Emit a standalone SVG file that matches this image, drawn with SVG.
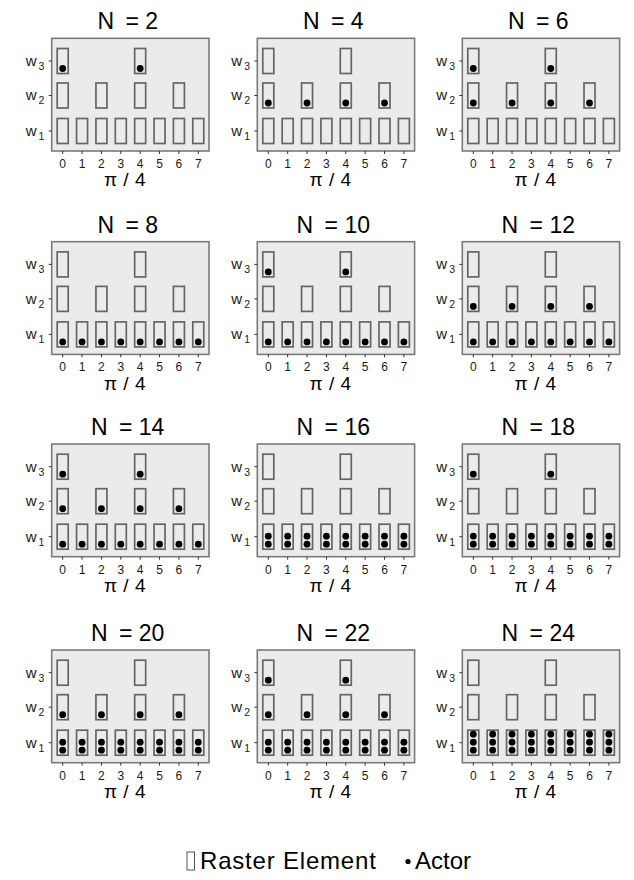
<svg xmlns="http://www.w3.org/2000/svg" width="634" height="880" viewBox="0 0 634 880">
<style>
.bg{fill:#ebebeb;stroke:#7a7a7a;stroke-width:1.6}
.re{fill:none;stroke:#666;stroke-width:1.7}
.tick{stroke:#333;stroke-width:1}
.dot{fill:#000}
text{font-family:"Liberation Sans",Arial,sans-serif;fill:#000}
.ttl{font-size:23px;text-anchor:middle}
.tk{font-size:12px;text-anchor:middle;fill:#1a1a1a}
.wl{font-size:15px;fill:#1a1a1a}
.sub{font-size:10.5px}
.ax{font-size:19px;text-anchor:middle;word-spacing:1px}
.lg{font-size:24px}
</style>
<defs>
<g id="base">
<rect class="bg" x="0" y="0" width="157.3" height="112.7"/>
<g class="re">
<rect x="5.5" y="10.2" width="11" height="25"/>
<rect x="82.98" y="10.2" width="11" height="25"/>
<rect x="5.5" y="44.7" width="11" height="25"/>
<rect x="44.24" y="44.7" width="11" height="25"/>
<rect x="82.98" y="44.7" width="11" height="25"/>
<rect x="121.72" y="44.7" width="11" height="25"/>
<rect x="5.5" y="80.2" width="11" height="25"/>
<rect x="24.87" y="80.2" width="11" height="25"/>
<rect x="44.24" y="80.2" width="11" height="25"/>
<rect x="63.61" y="80.2" width="11" height="25"/>
<rect x="82.98" y="80.2" width="11" height="25"/>
<rect x="102.35" y="80.2" width="11" height="25"/>
<rect x="121.72" y="80.2" width="11" height="25"/>
<rect x="141.09" y="80.2" width="11" height="25"/>
</g>
<path class="tick" d="M-3 22.7H0M-3 57.2H0M-3 92.7H0M11 112.7v3M30.37 112.7v3M49.74 112.7v3M69.11 112.7v3M88.48 112.7v3M107.85 112.7v3M127.22 112.7v3M146.59 112.7v3"/>
</g>
<g id="d3" class="dot"><circle cx="11" cy="30.2" r="3.4"/><circle cx="88.48" cy="30.2" r="3.4"/></g>
<g id="d2" class="dot"><circle cx="11" cy="64.7" r="3.4"/><circle cx="49.74" cy="64.7" r="3.4"/><circle cx="88.48" cy="64.7" r="3.4"/><circle cx="127.22" cy="64.7" r="3.4"/></g>
<g id="d1a" class="dot"><circle cx="11" cy="100.2" r="3.4"/><circle cx="30.37" cy="100.2" r="3.4"/><circle cx="49.74" cy="100.2" r="3.4"/><circle cx="69.11" cy="100.2" r="3.4"/><circle cx="88.48" cy="100.2" r="3.4"/><circle cx="107.85" cy="100.2" r="3.4"/><circle cx="127.22" cy="100.2" r="3.4"/><circle cx="146.59" cy="100.2" r="3.4"/></g>
<use id="d1b" href="#d1a" transform="translate(0,-8)"/>
<use id="d1c" href="#d1a" transform="translate(0,-16)"/>
</defs>

<g id="panel-n2" transform="translate(51.7,38.3)">
<use href="#base"/><use href="#d3"/>
<text class="ttl" x="76" y="-9">N <tspan dx="5">= 2</tspan></text>
<text class="wl" x="-26" y="27.7">w<tspan class="sub" dx="2" dy="4">3</tspan></text>
<text class="wl" x="-26" y="62.2">w<tspan class="sub" dx="2" dy="4">2</tspan></text>
<text class="wl" x="-26" y="97.7">w<tspan class="sub" dx="2" dy="4">1</tspan></text>
<text class="tk" x="11 30.37 49.74 69.11 88.48 107.85 127.22 146.59" y="129.5">01234567</text>
<text class="ax" x="73" y="148">π / 4</text>
</g>
<g id="panel-n4" transform="translate(257.3,38.3)">
<use href="#base"/><use href="#d2"/>
<text class="ttl" x="76" y="-9">N <tspan dx="5">= 4</tspan></text>
<text class="wl" x="-26" y="27.7">w<tspan class="sub" dx="2" dy="4">3</tspan></text>
<text class="wl" x="-26" y="62.2">w<tspan class="sub" dx="2" dy="4">2</tspan></text>
<text class="wl" x="-26" y="97.7">w<tspan class="sub" dx="2" dy="4">1</tspan></text>
<text class="tk" x="11 30.37 49.74 69.11 88.48 107.85 127.22 146.59" y="129.5">01234567</text>
<text class="ax" x="73" y="148">π / 4</text>
</g>
<g id="panel-n6" transform="translate(462.3,38.3)">
<use href="#base"/><use href="#d3"/><use href="#d2"/>
<text class="ttl" x="76" y="-9">N <tspan dx="5">= 6</tspan></text>
<text class="wl" x="-26" y="27.7">w<tspan class="sub" dx="2" dy="4">3</tspan></text>
<text class="wl" x="-26" y="62.2">w<tspan class="sub" dx="2" dy="4">2</tspan></text>
<text class="wl" x="-26" y="97.7">w<tspan class="sub" dx="2" dy="4">1</tspan></text>
<text class="tk" x="11 30.37 49.74 69.11 88.48 107.85 127.22 146.59" y="129.5">01234567</text>
<text class="ax" x="73" y="148">π / 4</text>
</g>

<g id="panel-n8" transform="translate(51.7,241.7)">
<use href="#base"/><use href="#d1a"/>
<text class="ttl" x="76" y="-9">N <tspan dx="5">= 8</tspan></text>
<text class="wl" x="-26" y="27.7">w<tspan class="sub" dx="2" dy="4">3</tspan></text>
<text class="wl" x="-26" y="62.2">w<tspan class="sub" dx="2" dy="4">2</tspan></text>
<text class="wl" x="-26" y="97.7">w<tspan class="sub" dx="2" dy="4">1</tspan></text>
<text class="tk" x="11 30.37 49.74 69.11 88.48 107.85 127.22 146.59" y="129.5">01234567</text>
<text class="ax" x="73" y="148">π / 4</text>
</g>
<g id="panel-n10" transform="translate(257.3,241.7)">
<use href="#base"/><use href="#d3"/><use href="#d1a"/>
<text class="ttl" x="76" y="-9">N <tspan dx="5">= 10</tspan></text>
<text class="wl" x="-26" y="27.7">w<tspan class="sub" dx="2" dy="4">3</tspan></text>
<text class="wl" x="-26" y="62.2">w<tspan class="sub" dx="2" dy="4">2</tspan></text>
<text class="wl" x="-26" y="97.7">w<tspan class="sub" dx="2" dy="4">1</tspan></text>
<text class="tk" x="11 30.37 49.74 69.11 88.48 107.85 127.22 146.59" y="129.5">01234567</text>
<text class="ax" x="73" y="148">π / 4</text>
</g>
<g id="panel-n12" transform="translate(462.3,241.7)">
<use href="#base"/><use href="#d2"/><use href="#d1a"/>
<text class="ttl" x="76" y="-9">N <tspan dx="5">= 12</tspan></text>
<text class="wl" x="-26" y="27.7">w<tspan class="sub" dx="2" dy="4">3</tspan></text>
<text class="wl" x="-26" y="62.2">w<tspan class="sub" dx="2" dy="4">2</tspan></text>
<text class="wl" x="-26" y="97.7">w<tspan class="sub" dx="2" dy="4">1</tspan></text>
<text class="tk" x="11 30.37 49.74 69.11 88.48 107.85 127.22 146.59" y="129.5">01234567</text>
<text class="ax" x="73" y="148">π / 4</text>
</g>

<g id="panel-n14" transform="translate(51.7,444)">
<use href="#base"/><use href="#d3"/><use href="#d2"/><use href="#d1a"/>
<text class="ttl" x="76" y="-9">N <tspan dx="5">= 14</tspan></text>
<text class="wl" x="-26" y="27.7">w<tspan class="sub" dx="2" dy="4">3</tspan></text>
<text class="wl" x="-26" y="62.2">w<tspan class="sub" dx="2" dy="4">2</tspan></text>
<text class="wl" x="-26" y="97.7">w<tspan class="sub" dx="2" dy="4">1</tspan></text>
<text class="tk" x="11 30.37 49.74 69.11 88.48 107.85 127.22 146.59" y="129.5">01234567</text>
<text class="ax" x="73" y="148">π / 4</text>
</g>
<g id="panel-n16" transform="translate(257.3,444)">
<use href="#base"/><use href="#d1a"/><use href="#d1b"/>
<text class="ttl" x="76" y="-9">N <tspan dx="5">= 16</tspan></text>
<text class="wl" x="-26" y="27.7">w<tspan class="sub" dx="2" dy="4">3</tspan></text>
<text class="wl" x="-26" y="62.2">w<tspan class="sub" dx="2" dy="4">2</tspan></text>
<text class="wl" x="-26" y="97.7">w<tspan class="sub" dx="2" dy="4">1</tspan></text>
<text class="tk" x="11 30.37 49.74 69.11 88.48 107.85 127.22 146.59" y="129.5">01234567</text>
<text class="ax" x="73" y="148">π / 4</text>
</g>
<g id="panel-n18" transform="translate(462.3,444)">
<use href="#base"/><use href="#d3"/><use href="#d1a"/><use href="#d1b"/>
<text class="ttl" x="76" y="-9">N <tspan dx="5">= 18</tspan></text>
<text class="wl" x="-26" y="27.7">w<tspan class="sub" dx="2" dy="4">3</tspan></text>
<text class="wl" x="-26" y="62.2">w<tspan class="sub" dx="2" dy="4">2</tspan></text>
<text class="wl" x="-26" y="97.7">w<tspan class="sub" dx="2" dy="4">1</tspan></text>
<text class="tk" x="11 30.37 49.74 69.11 88.48 107.85 127.22 146.59" y="129.5">01234567</text>
<text class="ax" x="73" y="148">π / 4</text>
</g>

<g id="panel-n20" transform="translate(51.7,650)">
<use href="#base"/><use href="#d2"/><use href="#d1a"/><use href="#d1b"/>
<text class="ttl" x="76" y="-9">N <tspan dx="5">= 20</tspan></text>
<text class="wl" x="-26" y="27.7">w<tspan class="sub" dx="2" dy="4">3</tspan></text>
<text class="wl" x="-26" y="62.2">w<tspan class="sub" dx="2" dy="4">2</tspan></text>
<text class="wl" x="-26" y="97.7">w<tspan class="sub" dx="2" dy="4">1</tspan></text>
<text class="tk" x="11 30.37 49.74 69.11 88.48 107.85 127.22 146.59" y="129.5">01234567</text>
<text class="ax" x="73" y="148">π / 4</text>
</g>
<g id="panel-n22" transform="translate(257.3,650)">
<use href="#base"/><use href="#d3"/><use href="#d2"/><use href="#d1a"/><use href="#d1b"/>
<text class="ttl" x="76" y="-9">N <tspan dx="5">= 22</tspan></text>
<text class="wl" x="-26" y="27.7">w<tspan class="sub" dx="2" dy="4">3</tspan></text>
<text class="wl" x="-26" y="62.2">w<tspan class="sub" dx="2" dy="4">2</tspan></text>
<text class="wl" x="-26" y="97.7">w<tspan class="sub" dx="2" dy="4">1</tspan></text>
<text class="tk" x="11 30.37 49.74 69.11 88.48 107.85 127.22 146.59" y="129.5">01234567</text>
<text class="ax" x="73" y="148">π / 4</text>
</g>
<g id="panel-n24" transform="translate(462.3,650)">
<use href="#base"/><use href="#d1a"/><use href="#d1b"/><use href="#d1c"/>
<text class="ttl" x="76" y="-9">N <tspan dx="5">= 24</tspan></text>
<text class="wl" x="-26" y="27.7">w<tspan class="sub" dx="2" dy="4">3</tspan></text>
<text class="wl" x="-26" y="62.2">w<tspan class="sub" dx="2" dy="4">2</tspan></text>
<text class="wl" x="-26" y="97.7">w<tspan class="sub" dx="2" dy="4">1</tspan></text>
<text class="tk" x="11 30.37 49.74 69.11 88.48 107.85 127.22 146.59" y="129.5">01234567</text>
<text class="ax" x="73" y="148">π / 4</text>
</g>

<g id="legend">
<rect x="187" y="852" width="7.5" height="18" fill="none" stroke="#555" stroke-width="1"/>
<text class="lg" x="200" y="869" letter-spacing="0.8">Raster Element</text>
<circle cx="408" cy="861.5" r="2.6" fill="#000"/>
<text class="lg" x="415" y="869">Actor</text>
</g>
<g id="connectors"></g>
</svg>
